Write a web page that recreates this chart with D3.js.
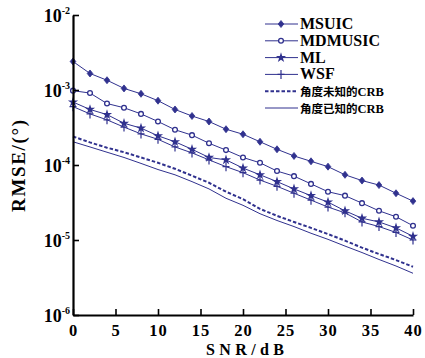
<!DOCTYPE html>
<html><head><meta charset="utf-8">
<script src="https://cdn.jsdelivr.net/npm/d3@7"></script>
<style>body{margin:0;background:#fff}svg{display:block}.sf{font-family:"Liberation Serif","DejaVu Serif","Times New Roman",serif;font-weight:bold}</style>
</head><body><svg id="c" width="425" height="358"></svg>
<script>
const snr = [0,2,4,6,8,10,12,14,16,18,20,22,24,26,28,30,32,34,36,38,40];
const msuic = [2.40e-3,1.66e-3,1.35e-3,1.05e-3,8.9e-4,7.2e-4,5.5e-4,4.5e-4,3.8e-4,3.0e-4,2.57e-4,2.04e-4,1.62e-4,1.32e-4,1.12e-4,9.5e-5,7.4e-5,6.2e-5,5.4e-5,4.2e-5,3.3e-5];
const mdmusic = [9.8e-4,9.1e-4,6.6e-4,5.8e-4,4.8e-4,3.8e-4,2.95e-4,2.5e-4,1.95e-4,1.58e-4,1.26e-4,1.07e-4,8.3e-5,7.1e-5,5.6e-5,4.4e-5,3.9e-5,3.1e-5,2.45e-5,2.04e-5,1.55e-5];
const ml = [6.9e-4,5.5e-4,4.7e-4,3.6e-4,3.1e-4,2.45e-4,2.04e-4,1.62e-4,1.26e-4,1.17e-4,9.1e-5,7.4e-5,6.0e-5,4.8e-5,3.9e-5,3.2e-5,2.45e-5,1.95e-5,1.74e-5,1.45e-5,1.12e-5];
const wsf = [6.0e-4,4.8e-4,4.0e-4,3.2e-4,2.6e-4,2.2e-4,1.74e-4,1.45e-4,1.17e-4,9.5e-5,7.9e-5,6.3e-5,5.2e-5,4.2e-5,3.4e-5,2.75e-5,2.3e-5,1.74e-5,1.51e-5,1.26e-5,1.0e-5];
const crbUnknown = [2.4e-4,2.0e-4,1.7e-4,1.48e-4,1.26e-4,1.07e-4,8.9e-5,7.2e-5,5.8e-5,4.4e-5,3.5e-5,2.6e-5,2.1e-5,1.74e-5,1.45e-5,1.2e-5,9.8e-6,7.9e-6,6.5e-6,5.4e-6,4.4e-6];
const crbKnown = [2.04e-4,1.74e-4,1.48e-4,1.26e-4,1.05e-4,8.7e-5,7.4e-5,6.0e-5,4.8e-5,3.6e-5,2.9e-5,2.24e-5,1.82e-5,1.51e-5,1.23e-5,1.02e-5,8.3e-6,6.8e-6,5.5e-6,4.5e-6,3.6e-6];
const seriesNames = ["MSUIC","MDMUSIC","ML","WSF","角度未知的CRB","角度已知的CRB"];
const xTicks = [0,5,10,15,20,25,30,35,40];
const yTicks = [1e-6,1e-5,1e-4,1e-3,1e-2];
const yTickExp = ["-6","-5","-4","-3","-2"];
const xLabel = "SNR/dB";
const yLabel = "RMSE/(°)";

const svg = d3.select("#c");
const col = "#30318e";
const x = d3.scaleLinear().domain([0,40]).range([73,413]);
const y = d3.scaleLog().domain([1e-6,1e-2]).range([315,15]);

svg.append("rect").attr("width",425).attr("height",358).attr("fill","#fff");

const series = [
  {name:seriesNames[0], v:msuic, m:"diamond"},
  {name:seriesNames[1], v:mdmusic, m:"circle"},
  {name:seriesNames[2], v:ml, m:"star"},
  {name:seriesNames[3], v:wsf, m:"plus"},
  {name:seriesNames[4], v:crbUnknown, m:"none", dash:true},
  {name:seriesNames[5], v:crbKnown, m:"none"}
];

function marker(g, type, cx, cy){
  if(type==="diamond"){
    g.append("path").attr("d",`M${cx},${cy-3.5}L${cx+2.8},${cy}L${cx},${cy+3.5}L${cx-2.8},${cy}Z`).attr("fill",col).attr("stroke",col).attr("stroke-width",0.8);
  } else if(type==="circle"){
    g.append("circle").attr("cx",cx).attr("cy",cy).attr("r",2.4).attr("fill","#fff").attr("stroke",col).attr("stroke-width",1.3);
  } else if(type==="star"){
    g.append("path").attr("d",d3.symbol(d3.symbolStar,32)()).attr("transform",`translate(${cx},${cy})`).attr("fill",col);
  } else if(type==="plus"){
    g.append("path").attr("d",`M${cx-3.5},${cy}H${cx+3.5}M${cx},${cy-4.5}V${cy+4.5}`).attr("stroke",col).attr("stroke-width",1.2).attr("fill","none");
  }
}

const line = d3.line().x(d=>x(d[0])).y(d=>y(d[1]));
const plot = svg.append("g");
series.forEach(s=>{
  const pts = snr.map((t,i)=>[t,s.v[i]]);
  plot.append("path").datum(pts).attr("d",line).attr("fill","none")
    .attr("stroke",col).attr("stroke-width",s.dash?2:1)
    .attr("stroke-dasharray",s.dash?"3.5,2":null);
  pts.forEach(p=>marker(plot,s.m,x(p[0]),y(p[1])));
});

// axes
const xa = svg.append("g").attr("transform","translate(0,315)")
  .call(d3.axisBottom(x).tickValues(xTicks).tickSize(-6).tickSizeOuter(0).tickPadding(9));
xa.attr("font-family",null);
xa.select(".domain").attr("stroke","#000").attr("stroke-width",2.2);
xa.selectAll(".tick line").attr("stroke","#000").attr("stroke-width",1.6);
xa.selectAll(".tick text").attr("class","sf").attr("font-size",16.5).attr("fill","#000").attr("letter-spacing",1);

const ya = svg.append("g").attr("transform","translate(73,0)")
  .call(d3.axisLeft(y).tickValues(yTicks).tickSize(-6).tickSizeOuter(0).tickFormat(""));
ya.attr("font-family",null);
ya.select(".domain").attr("stroke","#000").attr("stroke-width",2.2);
ya.selectAll(".tick line").attr("stroke","#000").attr("stroke-width",1.6);
ya.selectAll(".tick").each(function(d,i){
  const t = d3.select(this).append("text").attr("class","sf").attr("x",-3).attr("y",6)
    .attr("text-anchor","end").attr("fill","#000");
  t.append("tspan").attr("font-size",18).text("10");
  t.append("tspan").attr("font-size",10).attr("dy",-8).text(yTickExp[i]);
});

// axis labels
svg.append("text").attr("class","sf").attr("x",245).attr("y",354.5).attr("text-anchor","middle")
  .attr("font-size",16).attr("textLength",78).attr("lengthAdjust","spacing").text(xLabel);
svg.append("text").attr("class","sf").attr("transform","translate(25,166) rotate(-90)").attr("text-anchor","middle")
  .attr("font-size",19).attr("textLength",92).attr("lengthAdjust","spacing").text(yLabel);

// legend
const lg = svg.append("g");
const baselines = [29,45.8,62.6,79.4,96.2,113];
series.forEach((s,i)=>{
  const by = baselines[i];
  const ly = by-5;
  lg.append("line").attr("x1",265).attr("x2",298).attr("y1",ly).attr("y2",ly)
    .attr("stroke",col).attr("stroke-width",s.dash?2:1).attr("stroke-dasharray",s.dash?"3.5,2":null);
  marker(lg,s.m,281,ly);
  const cjk = i>=4;
  const t = lg.append("text").attr("class","sf").attr("x",300).attr("y",by).attr("fill","#000");
  if(cjk){
    t.append("tspan").style("font-family","'Noto Sans CJK SC',sans-serif").attr("font-size",11.5).text(s.name.slice(0,5));
    t.append("tspan").attr("font-size",12.5).text(s.name.slice(5));
  } else {
    t.attr("font-size",16).text(s.name);
  }
});
</script></body></html>
